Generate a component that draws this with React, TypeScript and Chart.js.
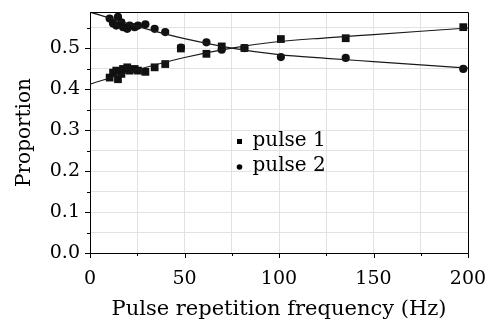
import React, { useEffect, useRef } from 'react';
import { Chart, registerables } from 'chart.js';

Chart.register(...registerables);

// Measured points (Hz, proportion)
const pulse1Freq = [10.4, 12.2, 13.9, 14.8, 16.6, 17.5, 19.7, 21.0, 23.6, 25.4, 29.3, 34.2, 39.8, 48.1, 61.6, 69.7, 81.7, 101.0, 135.3, 197.5];
const pulse1Prop = [0.428, 0.440, 0.445, 0.424, 0.437, 0.449, 0.453, 0.445, 0.449, 0.445, 0.442, 0.453, 0.461, 0.499, 0.486, 0.504, 0.500, 0.522, 0.524, 0.551];
const pulse2Freq = [10.4, 12.2, 13.9, 14.8, 16.6, 17.5, 19.7, 21.0, 23.6, 25.4, 29.3, 34.2, 39.8, 48.1, 61.6, 69.7, 81.7, 101.0, 135.3, 197.5];
const pulse2Prop = [0.572, 0.560, 0.555, 0.576, 0.563, 0.551, 0.547, 0.555, 0.551, 0.555, 0.558, 0.547, 0.539, 0.501, 0.514, 0.496, 0.500, 0.478, 0.476, 0.449];

// Fitted curves
const fitFreq = [0, 25, 50, 75, 100, 125, 150, 175, 200];
const fit1Prop = [0.412, 0.447, 0.477, 0.500, 0.516, 0.525, 0.533, 0.541, 0.549];
const fit2Prop = [0.588, 0.553, 0.523, 0.500, 0.484, 0.475, 0.467, 0.459, 0.451];

// Axes
const xTickValues = [0, 25, 50, 75, 100, 125, 150, 175, 200];
const xLabelValues = [0, 50, 100, 150, 200];
const yTickValues = [0, 0.05, 0.1, 0.15, 0.2, 0.25, 0.3, 0.35, 0.4, 0.45, 0.5, 0.55];
const yLabelValues = [0, 0.1, 0.2, 0.3, 0.4, 0.5];
const xTitle = 'Pulse repetition frequency (Hz)';
const yTitle = 'Proportion';
const legendLabels = ['pulse 1', 'pulse 2'];

const FONT = "'DejaVu Serif', serif";
const INK = '#000000';

const isLabel = (list: number[], v: number) => list.some((l) => Math.abs(l - v) < 1e-6);

const framePlugin = {
  id: 'frameAndTicks',
  afterDraw(chart: any) {
    const { ctx, chartArea } = chart;
    const xs = chart.scales.x;
    const ys = chart.scales.y;
    ctx.save();
    ctx.strokeStyle = INK;
    ctx.lineWidth = 1;
    // top and right frame
    ctx.beginPath();
    ctx.moveTo(chartArea.left, chartArea.top + 0.5);
    ctx.lineTo(chartArea.right + 0.5, chartArea.top + 0.5);
    ctx.lineTo(chartArea.right + 0.5, chartArea.bottom);
    ctx.stroke();
    // tick marks
    ctx.beginPath();
    xTickValues.forEach((v) => {
      const px = Math.round(xs.getPixelForValue(v)) + 0.5;
      const len = isLabel(xLabelValues, v) ? 5 : 3;
      ctx.moveTo(px, chartArea.bottom);
      ctx.lineTo(px, chartArea.bottom + len);
    });
    yTickValues.forEach((v) => {
      const py = Math.round(ys.getPixelForValue(v)) + 0.5;
      const len = isLabel(yLabelValues, v) ? 5 : 3;
      ctx.moveTo(chartArea.left, py);
      ctx.lineTo(chartArea.left - len, py);
    });
    ctx.stroke();
    // legend
    const lx = chartArea.left + 149.5;
    const ly = [chartArea.top + 129.5, chartArea.top + 155];
    ctx.fillStyle = INK;
    ctx.fillRect(lx - 2.5, ly[0] - 2.5, 5, 5);
    ctx.beginPath();
    ctx.arc(lx, ly[1], 2.8, 0, Math.PI * 2);
    ctx.fill();
    ctx.font = `20px ${FONT}`;
    ctx.textBaseline = 'middle';
    ctx.textAlign = 'left';
    legendLabels.forEach((t, i) => {
      ctx.fillText(t, lx + 13, ly[i] - 1);
    });
    ctx.restore();
  },
};

export default function App() {
  const ref = useRef<HTMLCanvasElement | null>(null);

  useEffect(() => {
    document.body.style.margin = '0';
    const canvas = ref.current;
    if (!canvas) return;
    const toXY = (xs: number[], ys: number[]) => xs.map((x, i) => ({ x, y: ys[i] }));
    const chart = new Chart(canvas, {
      type: 'scatter',
      data: {
        datasets: [
          {
            label: 'pulse 1 fit',
            data: toXY(fitFreq, fit1Prop),
            showLine: true,
            borderColor: '#1a1a1a',
            borderWidth: 1.2,
            pointRadius: 0,
            cubicInterpolationMode: 'monotone',
          },
          {
            label: 'pulse 2 fit',
            data: toXY(fitFreq, fit2Prop),
            showLine: true,
            borderColor: '#1a1a1a',
            borderWidth: 1.2,
            pointRadius: 0,
            cubicInterpolationMode: 'monotone',
          },
          {
            label: legendLabels[0],
            data: toXY(pulse1Freq, pulse1Prop),
            pointStyle: 'rect',
            pointRadius: 5.5,
            backgroundColor: '#111',
            borderColor: '#111',
            borderWidth: 0,
          },
          {
            label: legendLabels[1],
            data: toXY(pulse2Freq, pulse2Prop),
            pointStyle: 'circle',
            pointRadius: 4.1,
            backgroundColor: '#111',
            borderColor: '#111',
            borderWidth: 0,
          },
        ],
      } as any,
      options: {
        responsive: false,
        animation: false,
        layout: { padding: { top: 12, right: 28, bottom: 0, left: 0 } },
        plugins: { legend: { display: false }, tooltip: { enabled: false } },
        scales: {
          x: {
            type: 'linear',
            min: 0,
            max: 200,
            afterBuildTicks: (s: any) => {
              s.ticks = xTickValues.map((v) => ({ value: v }));
            },
            afterFit: (s: any) => {
              s.height = 74;
              s.paddingLeft = 0;
              s.paddingRight = 0;
              s.paddingTop = 0;
              s.paddingBottom = 0;
            },
            ticks: {
              autoSkip: false,
              maxRotation: 0,
              padding: 15,
              color: INK,
              font: { family: FONT, size: 19 },
              callback: (v: any) => (isLabel(xLabelValues, Number(v)) ? String(v) : ''),
            },
            grid: {
              drawTicks: false,
              color: (c: any) => (c.tick && c.tick.value === 0 ? 'rgba(0,0,0,0)' : '#e2e2e2'),
            },
            border: { color: INK, width: 1 },
            title: {
              display: true,
              text: xTitle,
              color: INK,
              font: { family: FONT, size: 21 },
              padding: { top: 0, bottom: 5 },
            },
          },
          y: {
            type: 'linear',
            min: 0,
            max: 0.588,
            afterBuildTicks: (s: any) => {
              s.ticks = yTickValues.map((v) => ({ value: v }));
            },
            afterFit: (s: any) => {
              s.width = 90;
              s.paddingLeft = 0;
              s.paddingRight = 0;
              s.paddingTop = 0;
              s.paddingBottom = 0;
            },
            ticks: {
              autoSkip: false,
              padding: 10,
              color: INK,
              font: { family: FONT, size: 19 },
              callback: (v: any) => (isLabel(yLabelValues, Number(v)) ? Number(v).toFixed(1) : ''),
            },
            grid: {
              drawTicks: false,
              color: (c: any) => (c.tick && c.tick.value === 0 ? 'rgba(0,0,0,0)' : '#e2e2e2'),
            },
            border: { color: INK, width: 1 },
            title: {
              display: true,
              text: yTitle,
              color: INK,
              font: { family: FONT, size: 20 },
              padding: { top: 13, bottom: 0 },
            },
          },
        },
      },
      plugins: [framePlugin],
    });
    return () => chart.destroy();
  }, []);

  return (
    <div style={{ width: 496, height: 327, background: '#fff' }}>
      <canvas ref={ref} width={496} height={327} style={{ display: 'block' }} />
    </div>
  );
}
